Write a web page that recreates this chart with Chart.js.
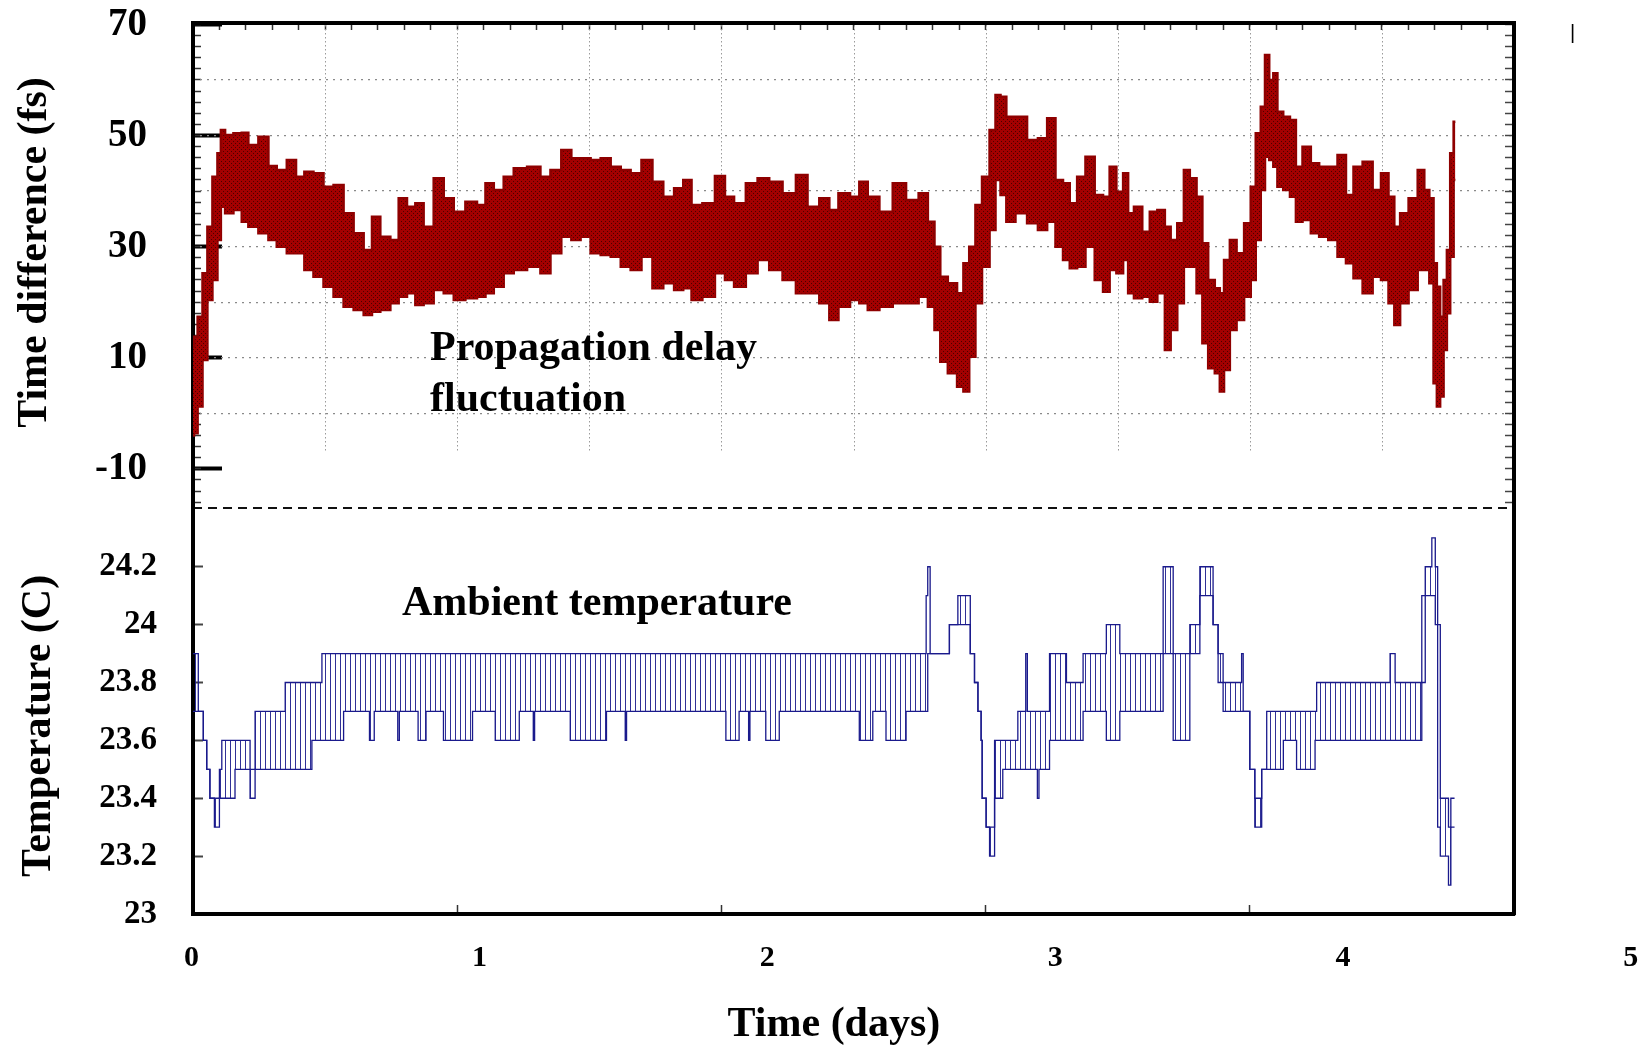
<!DOCTYPE html>
<html>
<head>
<meta charset="utf-8">
<title>Propagation delay fluctuation and ambient temperature</title>
<script src="https://cdn.jsdelivr.net/npm/chart.js@4.4.1/dist/chart.umd.min.js"></script>
<style>
  html, body { margin: 0; padding: 0; background: #fff; }
  #wrap { position: relative; width: 1650px; height: 1050px; }
  #wrap canvas { position: absolute; left: 0; top: 0; }
</style>
</head>
<body>
<div id="wrap">
  <canvas id="delayChart" width="1650" height="1050"></canvas>
  <canvas id="tempChart" width="1650" height="1050"></canvas>
</div>
<script>
// ---- data ----
// time difference band: upper / lower envelope (fs) at each sample time (days)
const delayDays = [
  0.000,0.008,0.027,0.045,0.064,0.083,0.102,0.109,0.134,0.172,
  0.197,0.222,0.273,0.298,0.336,0.374,0.406,0.437,0.475,0.513,
  0.551,0.589,0.627,0.665,0.690,0.728,0.766,0.791,0.829,0.854,
  0.892,0.930,0.968,1.006,1.056,1.094,1.120,1.157,1.195,1.233,
  1.296,1.334,1.372,1.416,1.448,1.486,1.524,1.562,1.600,1.638,
  1.675,1.720,1.758,1.802,1.840,1.871,1.903,1.953,1.998,2.029,
  2.067,2.118,2.156,2.206,2.257,2.307,2.345,2.396,2.421,2.465,
  2.509,2.535,2.573,2.623,2.674,2.724,2.769,2.794,2.819,2.838,
  2.876,2.908,2.924,2.952,2.971,3.002,3.028,3.047,3.066,3.091,
  3.135,3.179,3.217,3.249,3.280,3.306,3.331,3.362,3.394,3.432,
  3.457,3.482,3.508,3.533,3.546,3.577,3.609,3.634,3.666,3.691,
  3.710,3.741,3.760,3.786,3.811,3.830,3.855,3.880,3.893,3.912,
  3.937,3.963,3.994,4.013,4.032,4.051,4.064,4.083,4.095,4.114,
  4.139,4.165,4.184,4.215,4.247,4.278,4.316,4.348,4.380,4.405,
  4.449,4.481,4.512,4.538,4.556,4.582,4.620,4.651,4.670,4.689,
  4.702,4.714,4.727,4.740,4.752,4.765,4.778
];
const delayHigh = [
  12,13.8,17.4,25.2,33.6,42.6,46.8,51,50.1,50.4,
  50.5,48.3,49.8,44.5,43.8,45.6,42.6,43.5,43.2,40.8,
  41.1,36,32.4,29.4,35.4,31.8,31.2,38.7,37.2,37.8,
  33.6,42.3,38.7,36.3,38.1,37.5,41.4,40.2,42.6,44.1,
  44.4,42.6,43.8,47.4,45.9,45.9,45.6,45.9,44.4,43.8,
  43.2,45.6,41.7,39,40.5,42,37.5,37.8,42.7,39,
  37.8,41.4,42.3,41.7,39.6,42.9,37.2,38.7,36.6,39.6,
  39,41.7,39,36.3,41.4,38.4,39.6,34.5,30,24.6,
  23.4,21.6,27,30,37.5,42.6,51,57.3,57,53.4,
  53.4,49.2,49.5,53.1,42,41.4,37.8,42.6,46.2,39.3,
  39,44.4,39.9,43.2,36,37.2,32.7,36.3,36.6,33.6,
  31.2,34.2,43.8,42.3,39,30.6,24,22.5,21.6,27.6,
  31.2,28.8,34.2,40.8,50.4,55.2,64.5,60,61.2,54.3,
  53.4,52.8,44.4,48,45,44.4,44.4,46.5,39.3,44.4,
  45.3,40.2,43.2,39,33.6,36,38.7,43.8,40.2,38.7,
  27,22.8,17.4,24,29.4,46.8,52.5
];
const delayLow = [
  -4,-3.6,1.2,9.6,20.4,24,31.2,37.2,36,36.6,
  34.5,33.6,32.4,31.2,30,28.8,28.8,25.8,24.6,22.8,
  21,19.2,18.6,17.7,18.3,18.6,19.8,21,21.6,19.5,
  19.8,22.2,21.6,20.4,20.7,21,21.6,22.8,25.2,25.8,
  26.4,25.2,28.8,31.8,31.2,31.8,28.8,28.5,28.2,26.4,
  25.8,28.2,22.5,23.4,22.2,22.5,20.4,21,25.2,24,
  22.8,25.2,27.6,25.8,24,21.6,21.6,19.8,16.8,19.2,
  20.4,19.8,18.6,19.2,19.8,19.8,21,19.2,15,9.3,
  7.2,4.8,3.9,10.2,19.8,26.4,33,42,39.3,34.5,
  36,34.2,33,34.5,30,27.6,26.1,26.4,30,24,
  21.9,25.8,25.2,27.6,21.6,20.7,21,20.1,21.6,11.4,
  15,19.8,26.4,26.4,21.6,12.6,8.1,7.2,3.9,7.8,
  15,16.8,21,24,31.2,40.2,46.2,45.6,44.4,40.8,
  40.2,39,34.5,34.8,32.4,31.8,31.2,28.2,27,24.3,
  21.6,24.6,24,19.8,15.9,19.8,22.2,25.8,25.8,23.4,
  5.4,1.2,3,11.4,18,28.2,42
];

// ambient temperature: the sensor toggles between two 0.1 C levels; upper / lower level from each time on
const tempDays = [
  0.000,0.020,0.039,0.052,0.064,0.081,0.100,0.109,0.159,0.216,
  0.235,0.349,0.450,0.488,0.570,0.668,0.686,0.775,0.781,0.852,
  0.882,0.948,1.058,1.144,1.235,1.288,1.293,1.428,1.565,1.636,
  1.641,2.017,2.067,2.103,2.108,2.168,2.219,2.522,2.573,2.623,
  2.699,2.775,2.781,2.790,2.863,2.895,2.942,2.958,2.971,2.983,
  2.987,3.002,3.015,3.034,3.065,3.122,3.152,3.158,3.196,3.202,
  3.242,3.306,3.369,3.457,3.508,3.672,3.710,3.773,3.811,3.861,
  3.880,3.899,3.969,3.975,4.000,4.019,4.045,4.064,4.127,4.177,
  4.247,4.253,4.531,4.550,4.651,4.664,4.689,4.702,4.711,4.721,
  4.752,4.761,4.775
];
const tempHigh = [
  23.9,23.7,23.6,23.5,23.4,23.4,23.5,23.6,23.6,23.5,
  23.7,23.8,23.8,23.9,23.9,23.9,23.9,23.9,23.9,23.9,
  23.9,23.9,23.9,23.9,23.9,23.9,23.9,23.9,23.9,23.9,
  23.9,23.9,23.9,23.9,23.9,23.9,23.9,23.9,23.9,23.9,
  23.9,24.1,24.2,23.9,24.0,24.1,23.9,23.8,23.7,23.6,
  23.4,23.3,23.3,23.6,23.6,23.7,23.9,23.7,23.7,23.7,
  23.9,23.8,23.9,24.0,23.9,24.2,23.9,24.0,24.2,24.0,
  23.9,23.8,23.9,23.7,23.5,23.4,23.5,23.7,23.7,23.7,
  23.7,23.8,23.9,23.8,24.1,24.2,24.3,24.2,24.0,23.4,
  23.3,23.4,23.4
];
const tempLow = [
  23.7,23.7,23.6,23.5,23.4,23.3,23.4,23.4,23.5,23.4,
  23.5,23.5,23.6,23.6,23.7,23.6,23.7,23.6,23.7,23.6,
  23.7,23.6,23.7,23.6,23.7,23.6,23.7,23.6,23.7,23.6,
  23.7,23.6,23.7,23.6,23.7,23.6,23.7,23.6,23.7,23.6,
  23.7,23.7,23.9,23.9,24.0,24.0,23.9,23.8,23.7,23.6,
  23.4,23.3,23.2,23.4,23.5,23.5,23.5,23.5,23.4,23.5,
  23.6,23.6,23.7,23.6,23.7,23.9,23.6,23.9,24.1,24.0,
  23.8,23.7,23.7,23.7,23.5,23.3,23.5,23.5,23.6,23.5,
  23.6,23.6,23.6,23.6,23.8,24.1,24.1,24.0,23.3,23.2,
  23.1,23.3,23.3
];

// tick labels
const delayTicks = [70, 50, 30, 10, -10];
const tempTicks = [23, 23.2, 23.4, 23.6, 23.8, 24, 24.2];
const dayTicks = [0, 1, 2, 3, 4, 5];

// ---- helpers ----
Chart.defaults.font.family = "'Liberation Serif', 'Times New Roman', serif";
Chart.defaults.color = '#000';

const titleFont = "bold 42px 'Liberation Serif'";

function range(a, b, step) {
  const out = [];
  for (let v = a; v <= b + 1e-9; v += step) out.push(+v.toFixed(4));
  return out;
}
function setTicks(values) {
  return scale => { scale.ticks = values.map(v => ({value: v})); };
}
function fixSize(prop, size) {
  return scale => {
    scale[prop] = size;
    scale.paddingTop = scale.paddingBottom = scale.paddingLeft = scale.paddingRight = 0;
  };
}
function pts(xs, ys) { return xs.map((x, i) => ({x: x, y: ys[i]})); }
function pattern(w, h, draw) {
  const c = document.createElement('canvas');
  c.width = w; c.height = h;
  const g = c.getContext('2d');
  draw(g);
  return g.createPattern(c, 'repeat');
}

const redFill = pattern(4, 4, g => {
  g.fillStyle = '#a30000';
  g.fillRect(0, 0, 4, 4);
  g.fillStyle = 'rgba(0,0,0,0.55)';
  g.fillRect(1, 1, 1, 1);
  g.fillRect(3, 3, 1, 1);
});
const blueHatch = pattern(5, 1, g => {
  g.fillStyle = 'rgba(26,26,140,0.9)';
  g.fillRect(0, 0, 1, 1);
});

// text written on the figure (labels, axis titles), placed in the chart's data units
const notesPlugin = {
  id: 'notes',
  afterDatasetsDraw(chart, args, opts) {
    const ctx = chart.ctx;
    const xs = chart.scales.x, ys = chart.scales.y;
    (opts.items || []).forEach(n => {
      ctx.save();
      ctx.translate(xs.getPixelForValue(n.x), ys.getPixelForValue(n.y));
      if (n.rotate) ctx.rotate(n.rotate * Math.PI / 180);
      ctx.font = n.font;
      ctx.fillStyle = '#000';
      ctx.textAlign = n.align || 'left';
      ctx.textBaseline = n.baseline || 'alphabetic';
      ctx.fillText(n.text, 0, 0);
      ctx.restore();
    });
  }
};

// vertical dotted grid of the upper panel, stops short of the divider
const dayGridPlugin = {
  id: 'dayGrid',
  beforeDatasetsDraw(chart, args, opts) {
    const {ctx, chartArea} = chart;
    const xs = chart.scales.x, ys = chart.scales.y;
    const yEnd = ys.getPixelForValue(opts.floor);
    ctx.save();
    ctx.strokeStyle = opts.color;
    ctx.lineWidth = 1;
    ctx.setLineDash(opts.dash);
    xs.ticks.forEach(t => {
      const px = Math.round(xs.getPixelForValue(t.value)) + 0.5;
      ctx.beginPath();
      ctx.moveTo(px, chartArea.top + 2);
      ctx.lineTo(px, yEnd);
      ctx.stroke();
    });
    ctx.restore();
  }
};

const delayMin = -17.05, delayMax = 70.26;
const tempMin = 23, tempMax = 24.403;

// ---- upper panel: time difference ----
new Chart(document.getElementById('delayChart'), {
  type: 'line',
  data: {
    datasets: [
      {
        label: 'Time difference (upper)',
        data: pts(delayDays, delayHigh),
        xAxisID: 'x', yAxisID: 'y',
        borderColor: '#8e0000', borderWidth: 2.5,
        backgroundColor: redFill, fill: '+1',
        stepped: 'middle', pointRadius: 0
      },
      {
        label: 'Time difference (lower)',
        data: pts(delayDays, delayLow),
        xAxisID: 'x', yAxisID: 'y',
        borderColor: '#8e0000', borderWidth: 2.5,
        fill: false, stepped: 'middle', pointRadius: 0
      }
    ]
  },
  options: {
    responsive: false,
    animation: false,
    events: [],
    layout: { padding: 0 },
    plugins: {
      legend: { display: false },
      tooltip: { enabled: false },
      dayGrid: { floor: -7, color: '#9a9a9a', dash: [1.5, 2.5] },
      notes: {
        items: [
          { text: 'Propagation delay', x: 0.897, y: 9.6, font: titleFont },
          { text: 'fluctuation', x: 0.897, y: 0.4, font: titleFont },
          { text: 'Time difference (fs)', x: -0.598, y: 28.95, font: titleFont,
            rotate: -90, align: 'center', baseline: 'middle' },
          { text: '|', x: 5.212, y: 67.3, font: "20px 'Liberation Sans'" }
        ]
      }
    },
    scales: {
      x: {
        type: 'linear', axis: 'x', position: 'bottom', min: 0, max: 5, weight: 0,
        afterBuildTicks: setTicks(range(0.5, 4.5, 0.5)),
        afterFit: fixSize('height', 1050 - 508),
        ticks: { display: false },
        grid: { display: false },
        border: { display: false }
      },
      xTop: {
        type: 'linear', axis: 'x', position: 'top', min: 0, max: 5,
        afterBuildTicks: setTicks(range(0, 5, 0.1)),
        afterFit: fixSize('height', 23),
        ticks: { display: false },
        grid: { drawOnChartArea: false, tickLength: -7, tickWidth: 1.5, tickColor: '#333' },
        border: { width: 4, color: '#000' }
      },
      y: {
        type: 'linear', axis: 'y', position: 'left', min: delayMin, max: delayMax, weight: 2,
        afterBuildTicks: setTicks(delayTicks),
        afterFit: fixSize('width', 193),
        ticks: { padding: 75, font: { size: 39, weight: 'bold' }, callback: v => String(v) },
        grid: { drawOnChartArea: false, tickLength: -29, tickWidth: 4, tickColor: '#000' },
        border: { width: 4, color: '#000' }
      },
      yMinor: {
        type: 'linear', axis: 'y', position: 'left', min: delayMin, max: delayMax, weight: 1,
        afterBuildTicks: setTicks(range(-16, 70, 2)),
        afterFit: fixSize('width', 0),
        ticks: { display: false },
        grid: { drawOnChartArea: false, tickLength: -8, tickWidth: 1.5, tickColor: '#333' },
        border: { display: false }
      },
      yGrid: {
        type: 'linear', axis: 'y', position: 'left', min: delayMin, max: delayMax, weight: 0,
        afterBuildTicks: setTicks([delayMin].concat(range(0, 60, 10))),
        afterFit: fixSize('width', 0),
        ticks: { display: false },
        grid: {
          drawTicks: false,
          color: c => c.index === 0 ? '#111' : '#8a8a8a',
          lineWidth: c => c.index === 0 ? 2 : 1.2
        },
        border: { display: false, dash: c => c.index === 0 ? [9, 6] : [2, 5] }
      },
      yRight: {
        type: 'linear', axis: 'y', position: 'right', min: delayMin, max: delayMax,
        afterBuildTicks: setTicks(range(-16, 70, 2)),
        afterFit: fixSize('width', 136),
        ticks: { display: false },
        grid: { drawOnChartArea: false, tickLength: -9, tickWidth: 1.5, tickColor: '#444' },
        border: { width: 4, color: '#000' }
      }
    }
  },
  plugins: [dayGridPlugin, notesPlugin]
});

// ---- lower panel: ambient temperature ----
new Chart(document.getElementById('tempChart'), {
  type: 'line',
  data: {
    datasets: [
      {
        label: 'Temperature (upper level)',
        data: pts(tempDays, tempHigh),
        xAxisID: 'x', yAxisID: 'y',
        borderColor: '#1a1a8c', borderWidth: 1.3,
        backgroundColor: blueHatch, fill: '+1',
        stepped: true, pointRadius: 0
      },
      {
        label: 'Temperature (lower level)',
        data: pts(tempDays, tempLow),
        xAxisID: 'x', yAxisID: 'y',
        borderColor: '#1a1a8c', borderWidth: 1.3,
        fill: false, stepped: true, pointRadius: 0
      }
    ]
  },
  options: {
    responsive: false,
    animation: false,
    events: [],
    layout: { padding: { top: 508, left: 0, right: 0, bottom: 0 } },
    plugins: {
      legend: { display: false },
      tooltip: { enabled: false },
      notes: {
        items: [
          { text: 'Ambient temperature', x: 0.791, y: 24.033, font: titleFont },
          { text: 'Temperature (C)', x: -0.583, y: 23.65, font: titleFont,
            rotate: -90, align: 'center', baseline: 'middle' },
          { text: 'Time (days)', x: 2.426, y: 22.617, font: titleFont,
            align: 'center', baseline: 'middle' }
        ]
      }
    },
    scales: {
      x: {
        type: 'linear', axis: 'x', position: 'bottom', min: 0, max: 5, weight: 0,
        afterBuildTicks: setTicks(dayTicks),
        afterFit: fixSize('height', 0),
        ticks: { display: false },
        grid: { drawOnChartArea: false, tickLength: -9, tickWidth: 1.5, tickColor: '#333' },
        border: { width: 4, color: '#000' }
      },
      xl: {
        type: 'linear', axis: 'x', position: 'bottom', min: 0.005, max: 4.594, weight: 1,
        afterBuildTicks: setTicks(dayTicks),
        afterFit: fixSize('height', 136),
        ticks: { padding: 26, autoSkip: false, maxRotation: 0, font: { size: 30, weight: 'bold' } },
        grid: { display: false, drawTicks: false },
        border: { display: false }
      },
      y: {
        type: 'linear', axis: 'y', position: 'left', min: tempMin, max: tempMax,
        afterBuildTicks: setTicks(tempTicks),
        afterFit: fixSize('width', 193),
        ticks: { padding: 46, font: { size: 33, weight: 'bold' }, callback: v => String(+v.toFixed(1)) },
        grid: { drawOnChartArea: false, tickLength: -10, tickWidth: 2, tickColor: '#444' },
        border: { width: 4, color: '#000' }
      },
      yRight: {
        type: 'linear', axis: 'y', position: 'right', min: tempMin, max: tempMax,
        afterFit: fixSize('width', 136),
        ticks: { display: false },
        grid: { display: false },
        border: { width: 4, color: '#000' }
      }
    }
  },
  plugins: [notesPlugin]
});
</script>
</body>
</html>
